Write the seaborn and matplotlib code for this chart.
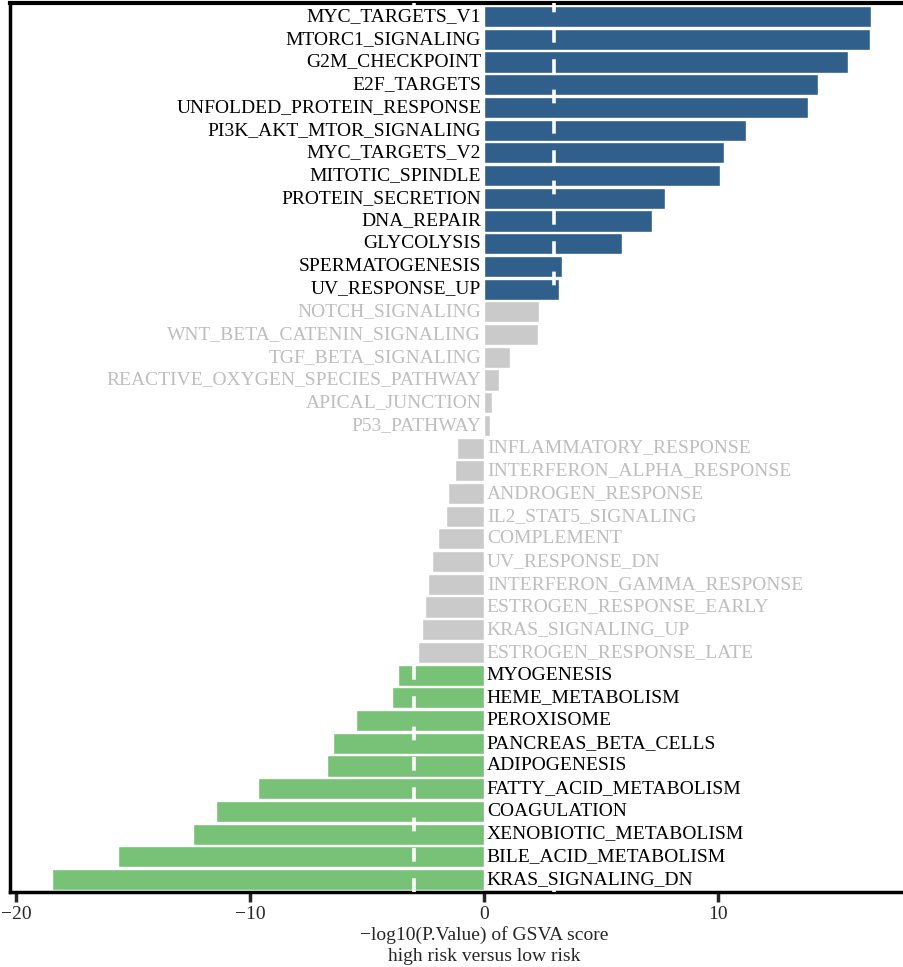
import matplotlib
matplotlib.use("Agg")
import matplotlib.pyplot as plt
import seaborn as sns
import pandas as pd

pathways = [
    "MYC_TARGETS_V1", "MTORC1_SIGNALING", "G2M_CHECKPOINT", "E2F_TARGETS",
    "UNFOLDED_PROTEIN_RESPONSE", "PI3K_AKT_MTOR_SIGNALING", "MYC_TARGETS_V2",
    "MITOTIC_SPINDLE", "PROTEIN_SECRETION", "DNA_REPAIR", "GLYCOLYSIS",
    "SPERMATOGENESIS", "UV_RESPONSE_UP", "NOTCH_SIGNALING",
    "WNT_BETA_CATENIN_SIGNALING", "TGF_BETA_SIGNALING",
    "REACTIVE_OXYGEN_SPECIES_PATHWAY", "APICAL_JUNCTION", "P53_PATHWAY",
    "INFLAMMATORY_RESPONSE", "INTERFERON_ALPHA_RESPONSE", "ANDROGEN_RESPONSE",
    "IL2_STAT5_SIGNALING", "COMPLEMENT", "UV_RESPONSE_DN",
    "INTERFERON_GAMMA_RESPONSE", "ESTROGEN_RESPONSE_EARLY", "KRAS_SIGNALING_UP",
    "ESTROGEN_RESPONSE_LATE", "MYOGENESIS", "HEME_METABOLISM", "PEROXISOME",
    "PANCREAS_BETA_CELLS", "ADIPOGENESIS", "FATTY_ACID_METABOLISM",
    "COAGULATION", "XENOBIOTIC_METABOLISM", "BILE_ACID_METABOLISM",
    "KRAS_SIGNALING_DN",
]
scores = [
    16.54, 16.50, 15.56, 14.27, 13.85, 11.20, 10.26, 10.09, 7.74, 7.18, 5.90,
    3.33, 3.20, 2.35, 2.31, 1.11, 0.64, 0.34, 0.26,
    -1.15, -1.24, -1.54, -1.62, -1.97, -2.22, -2.39, -2.52, -2.65, -2.82,
    -3.68, -3.93, -5.47, -6.45, -6.71, -9.66, -11.45, -12.44, -15.64, -18.46,
]
xticks = [-20, -10, 0, 10]
xtick_labels = ["\u221220", "\u221210", "0", "10"]
threshold = 3.0
group_colors = {"up": "#2F5F8A", "ns": "#CACACA", "down": "#77C277"}
text_colors = {"up": "black", "ns": "#BEBEBE", "down": "black"}
groups = ["up" if v > threshold else ("down" if v < -threshold else "ns") for v in scores]

df = pd.DataFrame({"pathway": pathways, "score": scores, "group": groups})

sns.set_style("white")
plt.rcParams["font.family"] = ["Liberation Serif", "DejaVu Serif"]

W, H = 904, 967
fig = plt.figure(figsize=(W / 100, H / 100), dpi=100)
ax_left, ax_right = 10, 958
ax_top, ax_bot = 3, 892
ax = fig.add_axes([ax_left / W, 1 - ax_bot / H, (ax_right - ax_left) / W, (ax_bot - ax_top) / H])

sns.barplot(data=df, x="score", y="pathway", hue="group", palette=group_colors,
            order=pathways, orient="h", width=0.93, dodge=False, legend=False,
            saturation=1, ax=ax)

ax.set_xlim(-20.25, 20.25)
ax.set_ylim(len(pathways) - 0.45, -0.6)

for xv in (-threshold, threshold):
    ax.axvline(xv, color="white", lw=2.6, linestyle=(0, (3.8, 4.6)), zorder=5)

fs = 14
for i, (name, v, g) in enumerate(zip(pathways, scores, groups)):
    if v >= 0:
        ax.text(-0.12, i, name, ha="right", va="center", fontsize=fs, color=text_colors[g], zorder=6)
    else:
        ax.text(0.12, i, name, ha="left", va="center", fontsize=fs, color=text_colors[g], zorder=6)

ax.set_yticks([])
ax.set_ylabel("")
ax.set_xticks(xticks)
ax.set_xticklabels(xtick_labels)
ax.tick_params(axis="x", direction="out", length=7, width=2.5, labelsize=fs, pad=3, bottom=True)
ax.set_xlabel("\u2212log10(P.Value) of GSVA score\nhigh risk versus low risk", fontsize=fs,
              linespacing=1.35, labelpad=2)
for side in ["left", "bottom", "top", "right"]:
    ax.spines[side].set_visible(True)
    ax.spines[side].set_color("black")
ax.spines["left"].set_linewidth(2.5)
ax.spines["bottom"].set_linewidth(2.5)
ax.spines["top"].set_linewidth(3)
ax.spines["right"].set_linewidth(2.5)

fig.savefig("out.png", dpi=100)
